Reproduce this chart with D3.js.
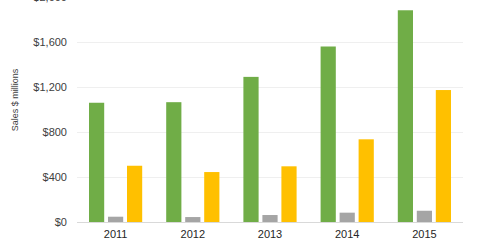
<!DOCTYPE html>
<html>
<head>
<meta charset="utf-8">
<script src="https://cdn.jsdelivr.net/npm/d3@7"></script>
<style>
body { margin: 0; background: #fff; }
svg { display: block; font-family: Arial, "Liberation Sans", sans-serif; }
</style>
</head>
<body>
<div id="chart"></div>
<script>
var width = 480;
var height = 251;

var years = ["2011", "2012", "2013", "2014", "2015"];
var seriesNames = ["Series A", "Series B", "Series C"];
var greenValues = [1060, 1065, 1290, 1560, 1882];
var grayValues = [47, 44, 62, 83, 100];
var yellowValues = [500, 444, 495, 735, 1173];
var tickValues = [0, 400, 800, 1200, 1600, 2000];
var colors = ["#70ad47", "#a5a5a5", "#ffc000"];

var margin = {top: -3, right: 17, bottom: 29, left: 77};

var svg = d3.select("#chart").append("svg")
    .attr("width", width)
    .attr("height", height);

var x = d3.scaleBand()
    .domain(years)
    .range([margin.left, width - margin.right]);

var x1 = d3.scaleBand()
    .domain(seriesNames)
    .range([12, x.bandwidth() - 12])
    .paddingInner(0.2);

var y = d3.scaleLinear()
    .domain([0, 2000])
    .range([height - margin.bottom, margin.top]);

//gridlines
svg.append("g")
    .selectAll("line")
    .data(tickValues.slice(1))
    .enter().append("line")
    .attr("x1", margin.left)
    .attr("x2", width - margin.right)
    .attr("y1", function(d) { return y(d) + 0.5; })
    .attr("y2", function(d) { return y(d) + 0.5; })
    .attr("stroke", "#efefef")
    .attr("stroke-width", 1);

//bars
var rows = years.map(function(yr, i) {
    return [greenValues[i], grayValues[i], yellowValues[i]];
});

var groups = svg.append("g")
    .selectAll("g")
    .data(rows)
    .enter().append("g")
    .attr("transform", function(d, i) { return "translate(" + x(years[i]) + ",0)"; });

groups.selectAll("rect")
    .data(function(d) { return d; })
    .enter().append("rect")
    .attr("x", function(d, j) { return x1(seriesNames[j]); })
    .attr("width", x1.bandwidth())
    .attr("y", function(d) { return y(d); })
    .attr("height", function(d) { return y(0) - y(d); })
    .attr("fill", function(d, j) { return colors[j]; });

//baseline
svg.append("line")
    .attr("x1", margin.left)
    .attr("x2", width - margin.right)
    .attr("y1", y(0) + 0.5)
    .attr("y2", y(0) + 0.5)
    .attr("stroke", "#d9d9d9");

//y labels
var yAxis = d3.axisLeft(y)
    .tickValues(tickValues)
    .tickSize(0)
    .tickPadding(10)
    .tickFormat(function(d) { return "$" + d3.format(",")(d); });

svg.append("g")
    .attr("transform", "translate(" + margin.left + ",0)")
    .call(yAxis)
    .call(function(g) { g.select(".domain").remove(); })
    .selectAll("text")
    .attr("font-size", 11)
    .attr("font-family", "Arial, 'Liberation Sans', sans-serif")
    .attr("fill", "#404040");

//x labels
var xAxis = d3.axisBottom(x).tickSize(0).tickPadding(8);
svg.append("g")
    .attr("transform", "translate(0," + y(0) + ")")
    .call(xAxis)
    .call(function(g) { g.select(".domain").remove(); })
    .selectAll("text")
    .attr("font-size", 11)
    .attr("font-family", "Arial, 'Liberation Sans', sans-serif")
    .attr("fill", "#262626");

svg.append("text")
    .attr("transform", "translate(18,100) rotate(-90)")
    .attr("text-anchor", "middle")
    .attr("font-size", 9)
    .attr("fill", "#404040")
    .text("Sales $ millions");
</script>
</body>
</html>
